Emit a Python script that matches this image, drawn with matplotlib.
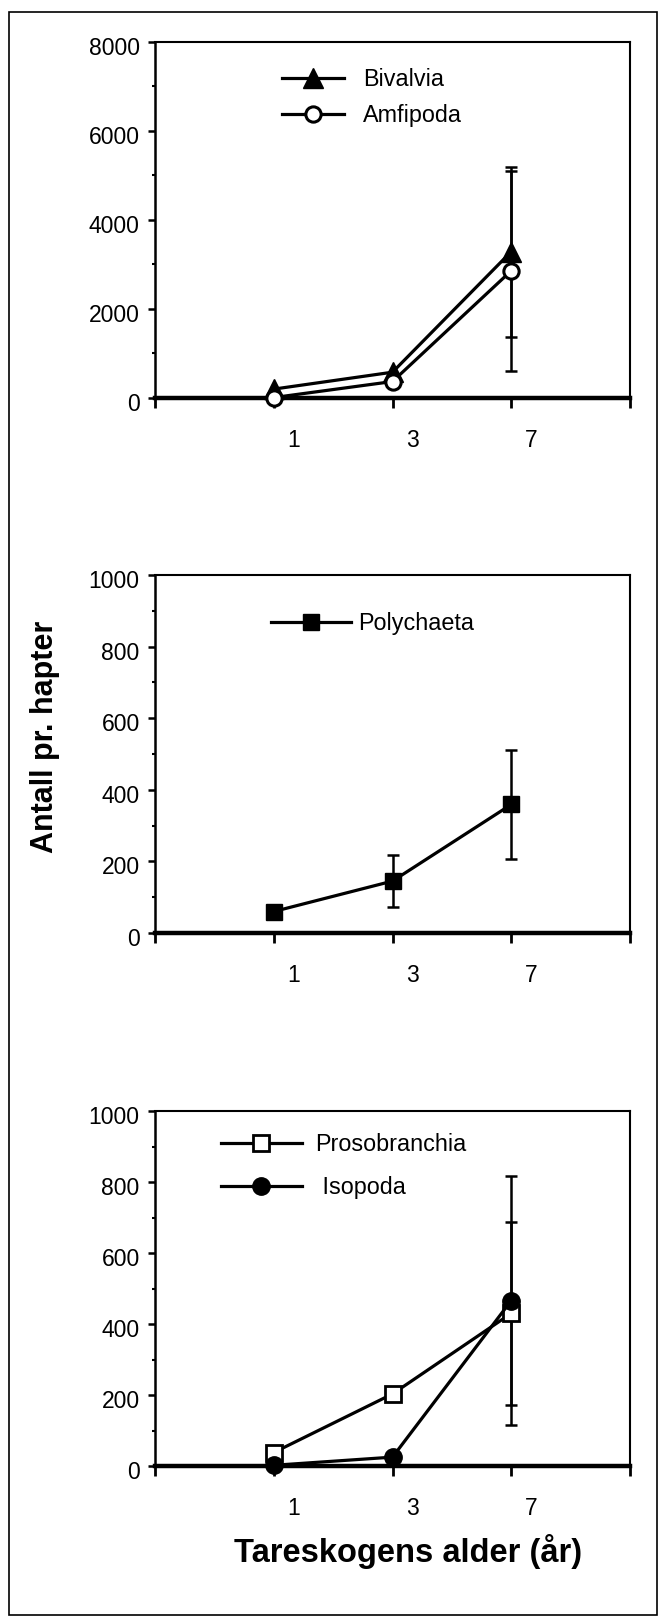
import matplotlib
matplotlib.use("Agg")
import matplotlib.pyplot as plt
import matplotlib.transforms as mtransforms
from matplotlib.patches import Rectangle
import numpy

plt.rcParams['font.family'] = ['Liberation Sans', 'DejaVu Sans']

# tareskogens alder (år), plotted at evenly spaced positions
ages = ['1', '3', '7']
xpos = [1, 2, 3]

bivalvia = [200, 580, 3290]
bivalvia_err = [0, 0, 1910]
amfipoda = [10, 370, 2860]
amfipoda_err = [0, 0, 2244]

polychaeta = [60, 145, 359]
polychaeta_err = [0, 73, 152]

prosobranchia = [38, 203, 430]
prosobranchia_err = [0, 18, 257]
isopoda = [2, 25, 466]
isopoda_err = [0, 0, 351]

W, H = 659, 1617
fig = plt.figure(figsize=(W / 100, H / 100), dpi=100)

left = 155 / W
width = 475 / W
ax1 = fig.add_axes([left, 1 - 398 / H, width, 356 / H])
ax2 = fig.add_axes([left, 1 - 933 / H, width, 358 / H])
ax3 = fig.add_axes([left, 1 - 1466 / H, width, 355 / H])


def style_axis(ax, ymax, major):
    ax.set_xlim(0, 4)
    ax.set_ylim(0, ymax)
    ax.set_xticks([0, 1, 2, 3, 4])
    ax.set_xticklabels([''] + ages + [''])
    ax.set_yticks(numpy.arange(0, ymax + 1, major))
    ax.set_yticks(numpy.arange(major / 2, ymax, major), minor=True)
    ax.tick_params(axis='x', direction='out', length=7, width=2, pad=15, labelsize=16.5)
    ax.tick_params(axis='y', which='major', direction='out', length=5, width=1.8, pad=6, labelsize=16.5)
    ax.tick_params(axis='y', which='minor', direction='out', length=2.5, width=1.5)
    ax.spines['left'].set_linewidth(1.8)
    ax.spines['top'].set_linewidth(1.5)
    ax.spines['right'].set_linewidth(1.5)
    ax.spines['bottom'].set_linewidth(3.2)
    shift_x = mtransforms.ScaledTranslation(0.20, 0, fig.dpi_scale_trans)
    for lab in ax.get_xticklabels():
        lab.set_transform(lab.get_transform() + shift_x)
    shift_y = mtransforms.ScaledTranslation(0, -0.04, fig.dpi_scale_trans)
    for lab in ax.get_yticklabels():
        lab.set_transform(lab.get_transform() + shift_y)


def series(ax, y, err, marker, ms, face, label, mew=1.0):
    idx = [i for i, e in enumerate(err) if e > 0]
    if idx:
        ax.errorbar([xpos[i] for i in idx], [y[i] for i in idx], yerr=[err[i] for i in idx],
                    fmt='none', ecolor='black', elinewidth=1.8, capsize=4, capthick=1.8, zorder=3)
    ax.plot(xpos, y, '-', marker=marker, color='black', lw=2.3, ms=ms, mfc=face, mec='black',
            mew=mew, label=label, clip_on=False, zorder=4)


style_axis(ax1, 8000, 2000)
series(ax1, bivalvia, bivalvia_err, '^', 14, 'black', 'Bivalvia')
series(ax1, amfipoda, amfipoda_err, 'o', 11, 'white', 'Amfipoda', mew=2.2)
ax1.legend(loc='center left', bbox_to_anchor=(0.268, 0.843), frameon=False, borderpad=0,
           borderaxespad=0, handlelength=2.66, handletextpad=0.8, labelspacing=0.55, fontsize=16.8)

style_axis(ax2, 1000, 200)
series(ax2, polychaeta, polychaeta_err, 's', 11, 'black', 'Polychaeta')
ax2.legend(loc='center left', bbox_to_anchor=(0.244, 0.865), frameon=False, borderpad=0,
           borderaxespad=0, handlelength=3.43, handletextpad=0.3, labelspacing=0.55, fontsize=16.8)

style_axis(ax3, 1000, 200)
series(ax3, prosobranchia, prosobranchia_err, 's', 11, 'white', 'Prosobranchia', mew=2.0)
series(ax3, isopoda, isopoda_err, 'o', 12.5, 'black', ' Isopoda')
ax3.legend(loc='center left', bbox_to_anchor=(0.138, 0.844), frameon=False, borderpad=0,
           borderaxespad=0, handlelength=3.47, handletextpad=0.6, labelspacing=0.85, fontsize=16.8)

fig.text(45 / W, 1 - 737 / H, 'Antall pr. hapter', rotation=90, ha='center', va='center',
         fontsize=22, fontweight='bold')
fig.text(408 / W, 55 / H, 'Tareskogens alder (år)', ha='center', va='baseline',
         fontsize=23.5, fontweight='bold')

fig.patches.append(Rectangle((9 / W, 2 / H), 648 / W, 1603 / H, transform=fig.transFigure,
                             fill=False, lw=1.2, ec='black'))

fig.savefig('out.png', dpi=100)
